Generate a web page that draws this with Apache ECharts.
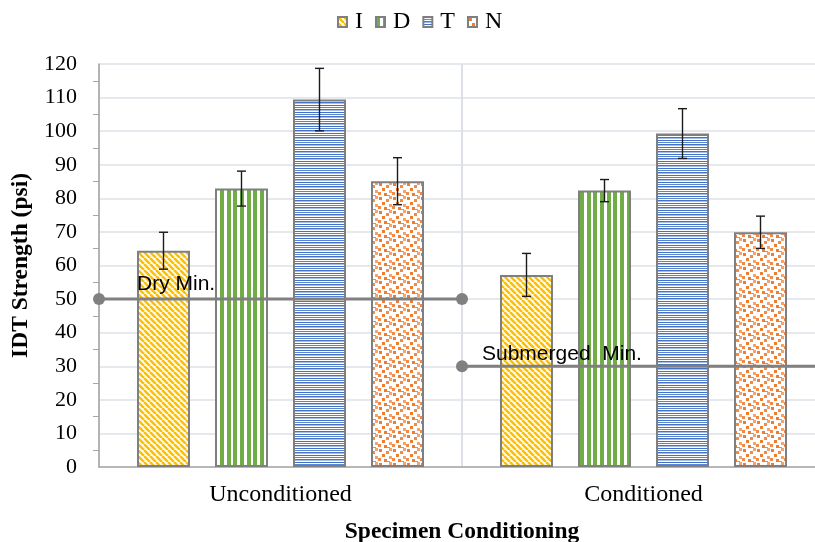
<!DOCTYPE html>
<html>
<head>
<meta charset="utf-8">
<script src="https://cdn.jsdelivr.net/npm/echarts@6/dist/echarts.min.js"></script>
<style>
  html, body { margin: 0; padding: 0; background: #fff; overflow: hidden; }
  #chart { width: 815px; height: 542px; }
</style>
</head>
<body>
<div id="chart"></div>
<script>
// Indirect tensile strength by mixture type and conditioning
const categories = ['Unconditioned', 'Conditioned'];
const seriesNames = ['I', 'D', 'T', 'N'];
const valuesI = [64.4, 57.2];
const valuesD = [82.9, 82.3];
const valuesT = [109.4, 99.3];
const valuesN = [85.1, 69.9];
const errorI = [5.5, 6.4];
const errorD = [5.2, 3.3];
const errorT = [9.3, 7.4];
const errorN = [7.0, 4.8];
const dryMin = 50;
const submergedMin = 30;
const yTicks = [0, 10, 20, 30, 40, 50, 60, 70, 80, 90, 100, 110, 120];

const SERIF = "'Liberation Serif', 'Times New Roman', serif";
const SANS = "'Liberation Sans', Arial, sans-serif";
const BAR_W = 53;
const BAR_PITCH = 78;

// ---- fill patterns ----
function tile(w, h) {
  const c = document.createElement('canvas');
  c.width = w; c.height = h;
  const g = c.getContext('2d');
  g.fillStyle = '#ffffff';
  g.fillRect(0, 0, w, h);
  return [c, g];
}
function diagonalPattern(color) {
  const [c, g] = tile(6, 6);
  g.strokeStyle = color;
  g.lineWidth = 2.6;
  g.beginPath();
  for (let o = -6; o <= 6; o += 6) { g.moveTo(o, 0); g.lineTo(o + 6, 6); }
  g.stroke();
  return c;
}
function verticalPattern(color) {
  const [c, g] = tile(20, 4);
  g.fillStyle = color;
  [0, 7, 13].forEach(x => g.fillRect(x, 0, 4, 4));
  return c;
}
function horizontalPattern() {
  const rows = ['#4472C4', '#ffffff', '#5B84CC', '#ffffff', '#4472C4', '#A9BFE6', '#ffffff'];
  const [c, g] = tile(4, rows.length);
  rows.forEach((col, i) => { g.fillStyle = col; g.fillRect(0, i, 4, 1); });
  return c;
}
function confettiPattern() {
  const [c, g] = tile(14, 14);
  const dots = [[1, 1, '#ED7D31'], [8, 3, '#F08A4B'], [4, 6, '#ED7D31'], [11, 8, '#F4A26E'],
                [0, 10, '#F08A4B'], [6, 11, '#ED7D31'], [11, 0, '#F4A26E'], [9, 13, '#F08A4B']];
  dots.forEach(([x, y, col]) => { g.fillStyle = col; g.fillRect(x, y, 3, 3); });
  return c;
}
const fills = [
  { image: diagonalPattern('#FFC000'), repeat: 'repeat' },
  { image: verticalPattern('#70AD47'), repeat: 'repeat' },
  { image: horizontalPattern(), repeat: 'repeat' },
  { image: confettiPattern(), repeat: 'repeat' }
];

const values = [valuesI, valuesD, valuesT, valuesN];
const errors = [errorI, errorD, errorT, errorN];

const barSeries = seriesNames.map((name, k) => ({
  name,
  type: 'bar',
  data: values[k],
  barWidth: BAR_W,
  barGap: ((BAR_PITCH - BAR_W) / BAR_W * 100) + '%',
  itemStyle: { color: fills[k], borderColor: '#7F7F7F', borderWidth: 2 },
  z: 2
}));

// error bars drawn centred on each bar of the group
const errorSeries = seriesNames.map((name, k) => ({
  type: 'custom',
  name: name + '-err',
  data: categories.map((c, i) => [i, values[k][i] - errors[k][i], values[k][i] + errors[k][i]]),
  renderItem(params, api) {
    const i = api.value(0);
    const lo = api.coord([i, api.value(1)]);
    const hi = api.coord([i, api.value(2)]);
    const x = lo[0] + (k - 1.5) * BAR_PITCH;
    const cap = 4.5;
    const style = { stroke: '#1a1a1a', lineWidth: 1.4 };
    return {
      type: 'group',
      children: [
        { type: 'line', shape: { x1: x, y1: lo[1], x2: x, y2: hi[1] }, style },
        { type: 'line', shape: { x1: x - cap, y1: hi[1], x2: x + cap, y2: hi[1] }, style },
        { type: 'line', shape: { x1: x - cap, y1: lo[1], x2: x + cap, y2: lo[1] }, style }
      ]
    };
  },
  z: 5,
  silent: true
}));

// minimum strength requirements, one per conditioning group
const limitLine = (value, from, text, labelPos) => ({
  type: 'line',
  xAxisIndex: 1,
  data: [
    { value: [from, value], label: { show: true, formatter: text, position: labelPos } },
    [from + 1, value]
  ],
  symbol: 'circle',
  symbolSize: 12,
  lineStyle: { color: '#808080', width: 3 },
  itemStyle: { color: '#808080' },
  label: { show: false, color: '#000', fontFamily: SANS, fontSize: 21 },
  z: 6,
  silent: true
});

const chart = echarts.init(document.getElementById('chart'));
chart.setOption({
  animation: false,
  legend: {
    data: seriesNames,
    top: 5,
    left: 332,
    icon: 'rect',
    itemWidth: 9,
    itemHeight: 10,
    itemGap: 12,
    textStyle: { fontFamily: SERIF, fontSize: 24, color: '#000', padding: [0, 0, 0, 3] }
  },
  grid: { left: 99, top: 64, width: 726, height: 403, outerBoundsMode: 'none', containLabel: false },
  xAxis: [
    {
      type: 'category',
      data: categories,
      axisLine: { lineStyle: { color: '#A6A6A6', width: 1.5 } },
      axisTick: { show: false },
      splitLine: { show: true, lineStyle: { color: '#DCE0E6', width: 2 } },
      axisLabel: { fontFamily: SERIF, fontSize: 24, color: '#000', margin: 16 },
      name: 'Specimen Conditioning',
      nameLocation: 'middle',
      nameGap: 53,
      nameTextStyle: { fontFamily: SERIF, fontSize: 23.5, fontWeight: 'bold', color: '#000' }
    },
    { type: 'value', min: 0, max: 2, show: false }
  ],
  yAxis: {
    type: 'value',
    min: yTicks[0],
    max: yTicks[yTicks.length - 1],
    interval: yTicks[1] - yTicks[0],
    axisLine: { show: true, lineStyle: { color: '#A6A6A6', width: 1.5 } },
    axisTick: { show: false },
    minorTick: { show: true, splitNumber: 2, length: 6, lineStyle: { color: '#A6A6A6', width: 1 } },
    splitLine: { lineStyle: { color: '#DCE0E6', width: 1.5 } },
    axisLabel: { fontFamily: SERIF, fontSize: 22, color: '#000', margin: 22 },
    name: 'IDT Strength (psi)',
    nameLocation: 'middle',
    nameGap: 64,
    nameTextStyle: { fontFamily: SERIF, fontSize: 23.5, fontWeight: 'bold', color: '#000' }
  },
  series: [
    ...barSeries,
    ...errorSeries,
    limitLine(dryMin, 0, 'Dry Min.', [44, -19]),
    limitLine(submergedMin, 1, 'Submerged  Min.', [26, -17])
  ]
});
</script>
</body>
</html>
